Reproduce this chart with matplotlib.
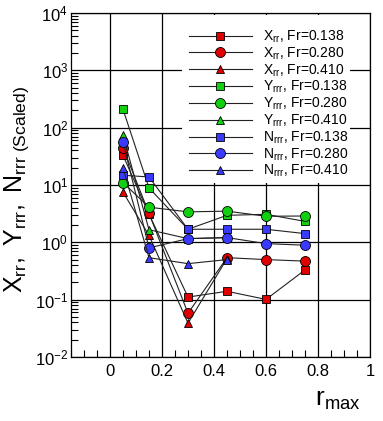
import numpy as np
import matplotlib
matplotlib.use('Agg')
import matplotlib.pyplot as plt
from matplotlib.ticker import FixedLocator, LogFormatterSciNotation, MultipleLocator, NullFormatter
from matplotlib.patches import Rectangle

plt.rcParams['font.family'] = ['Liberation Sans', 'DejaVu Sans']
plt.rcParams['mathtext.fontset'] = 'custom'
plt.rcParams['mathtext.rm'] = 'Liberation Sans'
plt.rcParams['mathtext.it'] = 'Liberation Sans:italic'

# r_max positions of the tests
r_max = [0.05, 0.15, 0.30, 0.45, 0.60, 0.75]
r_max_short = [0.05, 0.15, 0.30, 0.45]

# scaled coefficients
x_rr_138 = [33.0, 3.1, 0.111, 0.14, 0.101, 0.33]
x_rr_280 = [45.0, 3.2, 0.058, 0.54, 0.50, 0.47]
x_rr_410 = [7.5, 1.32, 0.039, 0.52]
y_rrr_138 = [209.0, 8.9, 1.69, 2.96, 3.08, 2.32]
y_rrr_280 = [11.0, 4.1, 3.4, 3.5, 2.85, 2.88]
y_rrr_410 = [74.0, 1.66, 1.16, 1.21]
n_rrr_138 = [14.8, 13.8, 1.69, 1.69, 1.69, 1.42]
n_rrr_280 = [56.0, 0.80, 1.16, 1.21, 0.95, 0.89]
n_rrr_410 = [19.8, 0.54, 0.425, 0.50]

labels = [r'$\mathrm{X_{rr}}$, Fr=0.138', r'$\mathrm{X_{rr}}$, Fr=0.280', r'$\mathrm{X_{rr}}$, Fr=0.410',
          r'$\mathrm{Y_{rrr}}$, Fr=0.138', r'$\mathrm{Y_{rrr}}$, Fr=0.280', r'$\mathrm{Y_{rrr}}$, Fr=0.410',
          r'$\mathrm{N_{rrr}}$, Fr=0.138', r'$\mathrm{N_{rrr}}$, Fr=0.280', r'$\mathrm{N_{rrr}}$, Fr=0.410']

y_decades = [1e-2, 1e-1, 1e0, 1e1, 1e2, 1e3, 1e4]
x_ticks = [0, 0.2, 0.4, 0.6, 0.8, 1.0]
x_ticklabels = ['0', '0.2', '0.4', '0.6', '0.8', '1']

red = '#e00000'
green = '#10d010'
blue = '#3a3aff'

series = [
    (r_max, x_rr_138, red, 's'), (r_max, x_rr_280, red, 'o'), (r_max_short, x_rr_410, red, '^'),
    (r_max, y_rrr_138, green, 's'), (r_max, y_rrr_280, green, 'o'), (r_max_short, y_rrr_410, green, '^'),
    (r_max, n_rrr_138, blue, 's'), (r_max, n_rrr_280, blue, 'o'), (r_max_short, n_rrr_410, blue, '^'),
]
msize = {'s': 5.2, 'o': 7.2, '^': 6.0}

fig = plt.figure(figsize=(3.83, 4.21), dpi=100)
ax = fig.add_axes([71 / 383, 1 - 357 / 421, 299 / 383, 344 / 421])

for (xs, ys, col, mk), lab in zip(series, labels):
    ax.plot(xs, ys, color='#222222', lw=0.8, marker=mk, ms=msize[mk],
            mfc=col, mec='black', mew=0.6, label=lab)

ax.set_yscale('log')
ax.set_xlim(-0.15, 1.0)
ax.set_ylim(1e-2, 1e4)
ax.yaxis.set_major_locator(FixedLocator(y_decades))
ax.yaxis.set_major_formatter(LogFormatterSciNotation())
minor_y = [m * d for d in y_decades[:-1] for m in range(2, 10)]
ax.yaxis.set_minor_locator(FixedLocator(minor_y))
ax.yaxis.set_minor_formatter(NullFormatter())
ax.set_xticks(x_ticks)
ax.set_xticklabels(x_ticklabels)
ax.xaxis.set_minor_locator(MultipleLocator(0.05))

ax.tick_params(which='both', direction='in', top=False, right=False, labelsize=12)
ax.tick_params(which='major', length=0)
ax.tick_params(which='minor', length=5, width=0.8)
ax.tick_params(axis='y', pad=2)
ax.tick_params(axis='x', pad=5)
ax.grid(True, which='major', color='black', lw=0.9)
for sp in ax.spines.values():
    sp.set_linewidth(0.9)

# white block behind the legend, hides the grid there
ax.add_patch(Rectangle((0.371, 0.506), 0.562, 0.488, transform=ax.transAxes,
                       facecolor='white', edgecolor='none', zorder=1.8))
ax.legend(loc='upper left', bbox_to_anchor=(0.395, 0.955), frameon=False,
          fontsize=10, handlelength=4.5, handletextpad=0.8, labelspacing=0.03,
          borderpad=0, borderaxespad=0)

fig.text(17 / 383, 1 - 189 / 421, r'$\mathrm{X_{rr},\ Y_{rrr},\ N_{rrr\ (Scaled)}}$',
         rotation=90, ha='center', va='center', fontsize=18)
fig.text(338 / 383, 1 - 400 / 421, r'$\mathrm{r_{max}}$', ha='center', va='center', fontsize=19)

fig.savefig('out.png', dpi=100)
